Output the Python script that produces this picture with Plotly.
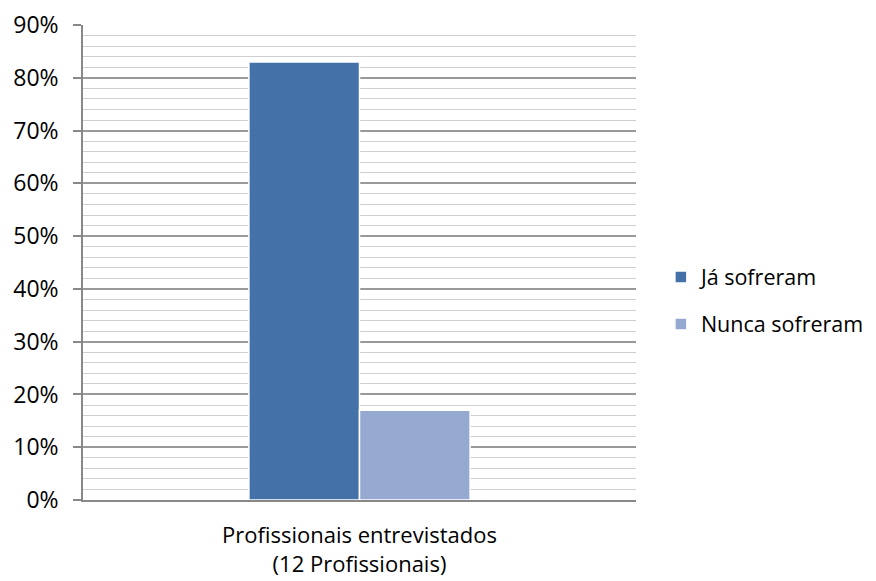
import plotly.graph_objects as go

categories = ["Profissionais entrevistados<br>(12 Profissionais)"]
series_names = ["Já sofreram", "Nunca sofreram"]
series_values = [[83], [17]]
series_colors = ["#4472A8", "#95A9D1"]
y_tick_vals = [0, 10, 20, 30, 40, 50, 60, 70, 80, 90]
y_tick_text = [f"{v}%" for v in y_tick_vals]

fig = go.Figure()
for i, (name, vals, col) in enumerate(zip(series_names, series_values, series_colors)):
    fig.add_trace(go.Bar(
        x=categories, y=vals, name=name, legendgroup=f"g{i}",
        marker=dict(color=col, line=dict(color="white", width=1.5)),
    ))

fig.update_layout(
    width=876, height=581,
    margin=dict(l=83, r=240, t=25, b=81, autoexpand=False),
    paper_bgcolor="white", plot_bgcolor="white",
    barmode="group", bargap=0.6, bargroupgap=0,
    font=dict(family="Open Sans, sans-serif", size=23, color="#000000"),
    legend=dict(x=1.045, y=0.42, xanchor="left", yanchor="middle",
                tracegroupgap=16, font=dict(size=21.5), itemwidth=30),
    showlegend=True,
)
fig.update_xaxes(
    showline=True, linecolor="#888888", linewidth=1.5,
    ticks="", tickfont=dict(size=22), showgrid=False,
    ticklabelstandoff=15,
)
fig.update_yaxes(
    range=[0, 90], tickvals=y_tick_vals, ticktext=y_tick_text,
    showline=True, linecolor="#888888", linewidth=1.5,
    ticks="outside", ticklen=8, tickcolor="#888888", tickwidth=1.5,
    showgrid=True, gridcolor="#999999", gridwidth=1.5,
    zeroline=False,
    minor=dict(dtick=2, showgrid=True, gridcolor="#cfcfcf", gridwidth=1.2, ticks=""),
    tickfont=dict(size=23), ticklabelstandoff=10,
)
fig.write_html("out.html")
